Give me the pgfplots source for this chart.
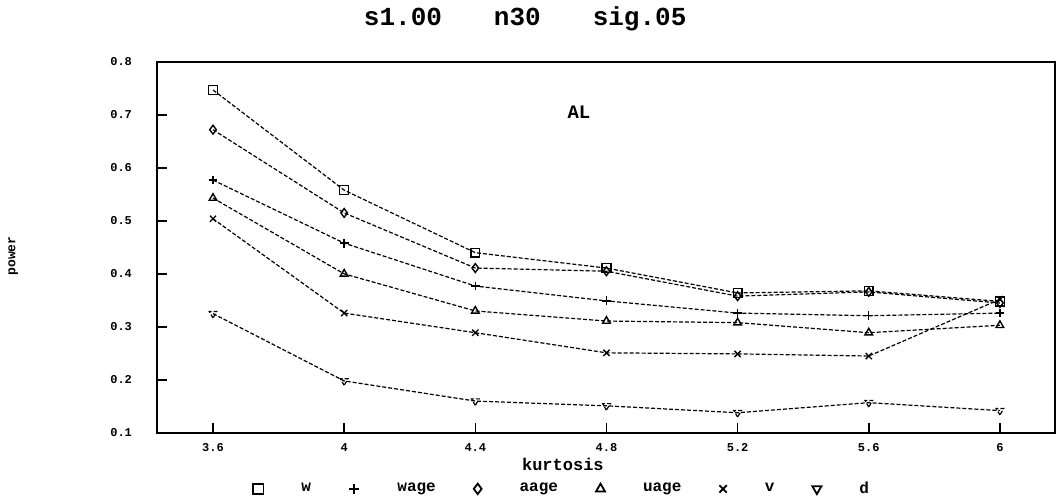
\documentclass[border=0pt]{standalone}
\usepackage{fontspec}
\setmainfont{Liberation Mono}
\usepackage{pgfplots}
\pgfplotsset{compat=1.18}
\begin{document}
\begin{tikzpicture}
\begin{axis}[
  scale only axis, width=449pt, height=185.5pt,
  xmin=-0.427, xmax=6.42, ymin=0.1, ymax=0.8,
  axis line style={line width=1pt},
  xtick={0,1,2,3,4,5,6},
  xticklabels={3.6,4,4.4,4.8,5.2,5.6,6},
  ytick={0.1,0.2,0.3,0.4,0.5,0.6,0.7,0.8},
  yticklabels={0.1,0.2,0.3,0.4,0.5,0.6,0.7,0.8},
  xtick pos=bottom, ytick pos=left,
  tick align=inside, major tick length=5pt,
  tick style={line width=0.8pt, black},
  /pgf/number format/assume math mode=true,
  ticklabel style={font=\fontsize{6}{7}\selectfont\bfseries},
  yticklabel style={xshift=-9pt},
  xticklabel style={yshift=-2pt},
  clip=false,
  every axis y label/.style={at={(axis description cs:-0.160,0.477)}, rotate=90, anchor=center, font=\fontsize{6.5}{7}\selectfont\bfseries},
  ylabel={power},
  every axis x label/.style={at={(axis description cs:0.452,-0.084)}, anchor=center, font=\fontsize{8.5}{9}\selectfont\bfseries},
  xlabel={kurtosis},
  legend columns=6,
  legend style={at={(axis description cs:0.451,-0.151)}, anchor=center, draw=none, fill=none,
    font=\fontsize{8}{9}\selectfont\bfseries, column sep=18pt, inner sep=0pt,
    nodes={inner xsep=1pt}},
  every axis plot/.append style={black, line width=0.6pt, dash pattern=on 2pt off 1pt, mark size=2.2pt, mark options={solid, line width=0.7pt}},
]
\addplot[mark=square, forget plot] coordinates {(0,0.747)(1,0.558)(2,0.440)(3,0.411)(4,0.364)(5,0.368)(6,0.348)};
\addplot[mark=diamond, forget plot] coordinates {(0,0.672)(1,0.515)(2,0.411)(3,0.405)(4,0.358)(5,0.366)(6,0.345)};
\addplot[mark=+, forget plot] coordinates {(0,0.577)(1,0.458)(2,0.377)(3,0.349)(4,0.326)(5,0.321)(6,0.326)};
\addplot[mark=triangle, forget plot] coordinates {(0,0.543)(1,0.400)(2,0.330)(3,0.311)(4,0.308)(5,0.289)(6,0.303)};
\addplot[mark=x, forget plot] coordinates {(0,0.504)(1,0.326)(2,0.289)(3,0.251)(4,0.249)(5,0.245)(6,0.352)};
\addplot[mark=triangle, mark options={rotate=180}, forget plot] coordinates {(0,0.325)(1,0.198)(2,0.160)(3,0.151)(4,0.138)(5,0.157)(6,0.142)};
\addlegendimage{only marks, mark=square, mark size=2.6pt, mark options={solid, line width=0.9pt}}
\addlegendentry{w}
\addlegendimage{only marks, mark=+, mark size=2.6pt, mark options={solid, line width=0.9pt}}
\addlegendentry{wage}
\addlegendimage{only marks, mark=diamond, mark size=2.6pt, mark options={solid, line width=0.9pt}}
\addlegendentry{aage}
\addlegendimage{only marks, mark=triangle, mark size=2.6pt, mark options={solid, line width=0.9pt}}
\addlegendentry{uage}
\addlegendimage{only marks, mark=x, mark size=2.6pt, mark options={solid, line width=0.9pt}}
\addlegendentry{v}
\addlegendimage{only marks, mark=triangle, mark size=2.6pt, mark options={solid, line width=0.9pt, rotate=180}}
\addlegendentry{d}
\node[font=\fontsize{9.5}{10}\selectfont\bfseries] at (axis cs:2.79,0.705) {AL};
\node[font=\fontsize{13}{14}\selectfont\bfseries] at (axis description cs:0.41,1.116) {s1.00\hspace{26pt}n30\hspace{26pt}sig.05};
\end{axis}
\path ([xshift=-78.5pt,yshift=-33pt]current axis.south west) rectangle ([xshift=1pt,yshift=30.5pt]current axis.north east);
\end{tikzpicture}
\end{document}
